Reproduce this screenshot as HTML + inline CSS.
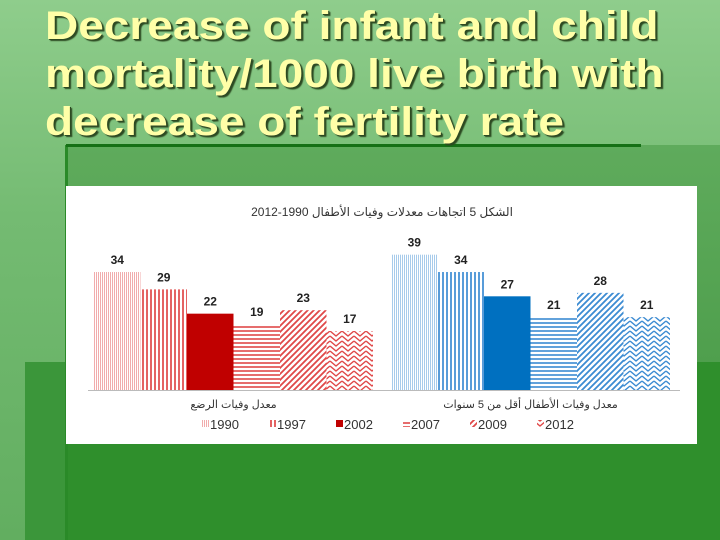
<!DOCTYPE html>
<html><head><meta charset="utf-8"><style>
body{margin:0;width:720px;height:540px;overflow:hidden;position:relative;background:linear-gradient(180deg,#8fcd8c 0%,#74bb72 40%,#62ae60 100%);font-family:"Liberation Sans",sans-serif}
.abs{position:absolute}
#title{left:45px;top:2px;font-weight:bold;font-size:40px;line-height:48px;color:#ffffa8;text-shadow:1px 1px 0 #2d4a22,2px 2px 1px #2d4a22;transform:scaleX(1.15);transform-origin:left top;white-space:nowrap}
</style></head><body>
<div class="abs" style="left:66px;top:145px;width:654px;height:217px;background:linear-gradient(180deg,#5fab5c,#4f9f4d)"></div>
<div class="abs" style="left:25px;top:362px;width:695px;height:178px;background:#2f8f2c"></div>
<div class="abs" style="left:25px;top:362px;width:41px;height:178px;background:#3b963a"></div>
<div class="abs" style="left:65px;top:145px;width:3px;height:395px;background:#2a8a28"></div>
<div class="abs" style="left:66px;top:144px;width:575px;height:3px;background:#167016"></div>
<div id="title" class="abs">Decrease of infant and child<br>mortality/1000 live birth with<br>decrease of fertility rate</div>
<svg class="abs" style="left:66px;top:186px" width="631" height="258">
<defs></defs>
<rect width="631" height="258" fill="#fff"/>
<g id="g"></g>
</svg>
<script>
const categories=["معدل وفيات الرضع","معدل وفيات الأطفال أقل من 5 سنوات"];
const years=["1990","1997","2002","2007","2009","2012"];
const infant=[34,29,22,19,23,17];
const under5=[39,34,27,21,28,21];
const series=[infant,under5];
const NS="http://www.w3.org/2000/svg";
const svg=document.querySelector('svg');const defs=svg.querySelector('defs');const g=document.getElementById('g');
const colors=["#e04848","#3b8bd2"];
function el(t,a,p){const e=document.createElementNS(NS,t);for(const k in a)e.setAttribute(k,a[k]);(p||g).appendChild(e);return e;}
function mkPat(id,ci,k){const c=colors[ci];const p=el('pattern',{id:id,patternUnits:'userSpaceOnUse',width:4,height:4},defs);
 el('rect',{width:4,height:4,fill:'#fff'},p);
 if(k==0){el('rect',{x:0,y:0,width:1,height:4,fill:c,opacity:.45},p);el('rect',{x:2,y:0,width:1,height:4,fill:c,opacity:.45},p);}
 if(k==1){el('rect',{x:0,y:0,width:2,height:4,fill:c,opacity:.85},p);}
 if(k==3){el('rect',{x:0,y:0,width:4,height:2,fill:c,opacity:.8},p);}
 if(k==4){p.setAttribute('width',6);p.setAttribute('height',6);el('rect',{width:6,height:6,fill:'#fff'},p);el('path',{d:'M-1,7 L7,-1 M-1,1 L1,-1 M5,7 L7,5',stroke:c,'stroke-width':1.8},p);}
 if(k==5){p.setAttribute('width',12);p.setAttribute('height',5);el('rect',{width:12,height:5,fill:'#fff'},p);el('path',{d:'M0,0 L6,5 L12,0 M0,5 L6,10 L12,5 M0,-5 L6,0 L12,-5',stroke:c,'stroke-width':1.4,fill:'none'},p);}
 return 'url(#'+id+')';}
const fills=[0,1].map(ci=>years.map((y,k)=>k==2?colors[ci]:mkPat('p'+ci+k,ci,k)));
fills[0][2]="#c00000";fills[1][2]="#0070c0";
const base=204,scale=3.47;
function yv(v){return base-v*scale;}
const groupX=[28,325],bw=46.5;
el('line',{x1:22,x2:614,y1:base+0.5,y2:base+0.5,stroke:'#bbb','stroke-width':1});
series.forEach((s,ci)=>{s.forEach((v,k)=>{const x=groupX[ci]+k*bw;
 const r=el('rect',{x:x,y:yv(v),width:bw,height:v*scale,fill:fills[ci][k]});
 
 const t=el('text',{x:x+bw/2,y:yv(v)-8,'text-anchor':'middle','font-size':12,'font-weight':'bold',fill:'#222'});t.textContent=v;
 });
 const c=el('text',{x:groupX[ci]+3*bw,y:222,'text-anchor':'middle','font-size':11,fill:'#333','font-family':'"Liberation Sans","DejaVu Sans",sans-serif'});c.textContent=categories[ci];
 });
const tt=el('text',{x:316,y:30,'text-anchor':'middle','font-size':12,fill:'#333','font-family':'"Liberation Sans","DejaVu Sans",sans-serif'});tt.textContent="الشكل 5 اتجاهات معدلات وفيات الأطفال 1990-2012";

years.forEach((y,k)=>{const x=136+k*67;
 const sw=el('rect',{x:x,y:234,width:7,height:7,fill:fills[0][k]});
 const t=el('text',{x:x+8,y:243,'font-size':13,fill:'#333'});t.textContent=y;});
</script>
</body></html>
